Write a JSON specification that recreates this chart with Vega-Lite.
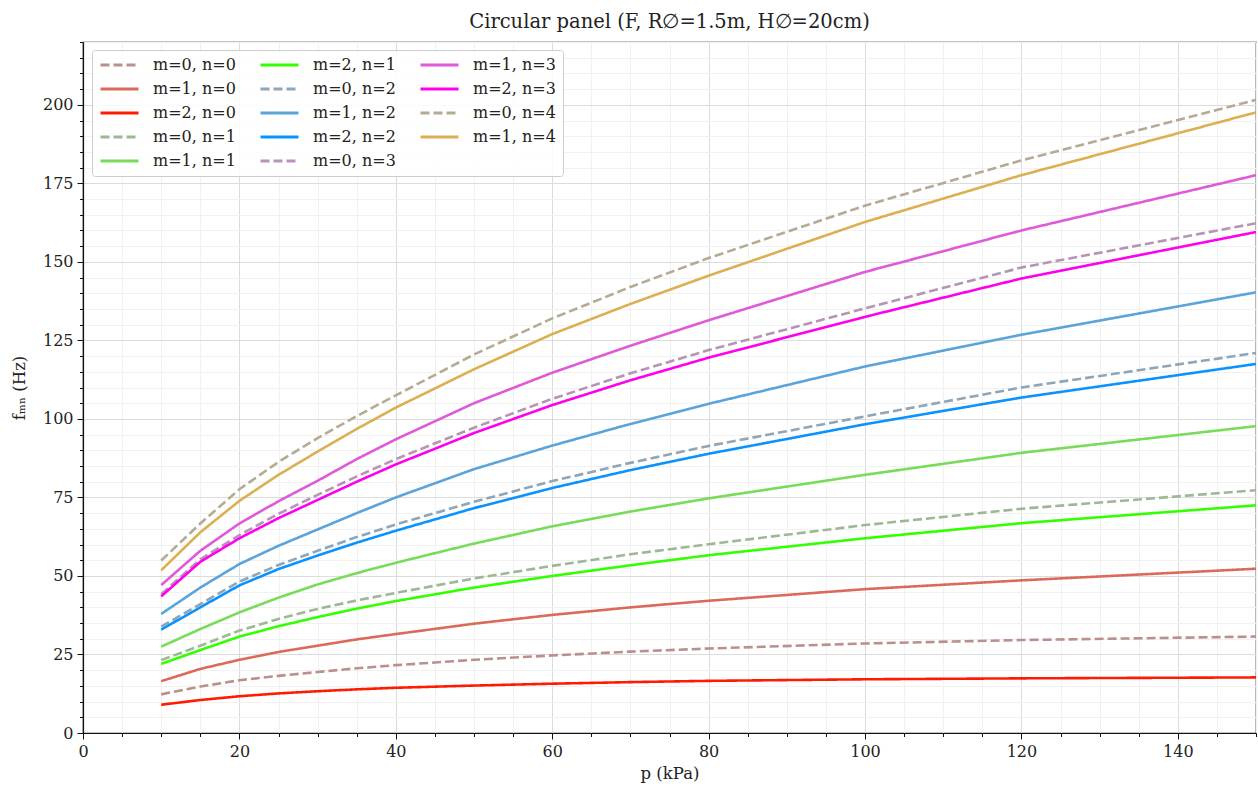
{
  "$schema": "https://vega.github.io/schema/vega-lite/v6.json",
  "autosize": {"type": "none"},
  "padding": {"left": 83, "top": 42, "right": 2, "bottom": 61},
  "width": 1173,
  "height": 691,
  "background": "white",
  "title": {"text": "Circular panel (F, R∅=1.5m, H∅=20cm)", "fontSize": 19.5, "font": "DejaVu Serif", "fontWeight": "normal", "anchor": "middle", "offset": 9, "color": "#222"},
  "data": {"values": [
    {"p":10,"series":"m=0, n=0","f":12.3},{"p":15,"series":"m=0, n=0","f":14.8},{"p":20,"series":"m=0, n=0","f":16.8},{"p":25,"series":"m=0, n=0","f":18.2},{"p":30,"series":"m=0, n=0","f":19.4},{"p":35,"series":"m=0, n=0","f":20.6},{"p":40,"series":"m=0, n=0","f":21.6},{"p":50,"series":"m=0, n=0","f":23.3},{"p":60,"series":"m=0, n=0","f":24.7},{"p":70,"series":"m=0, n=0","f":25.9},{"p":80,"series":"m=0, n=0","f":26.9},{"p":100,"series":"m=0, n=0","f":28.5},{"p":120,"series":"m=0, n=0","f":29.6},{"p":150,"series":"m=0, n=0","f":30.7},
    {"p":10,"series":"m=1, n=0","f":16.5},{"p":15,"series":"m=1, n=0","f":20.4},{"p":20,"series":"m=1, n=0","f":23.3},{"p":25,"series":"m=1, n=0","f":25.8},{"p":30,"series":"m=1, n=0","f":27.8},{"p":35,"series":"m=1, n=0","f":29.8},{"p":40,"series":"m=1, n=0","f":31.5},{"p":50,"series":"m=1, n=0","f":34.8},{"p":60,"series":"m=1, n=0","f":37.6},{"p":70,"series":"m=1, n=0","f":40.0},{"p":80,"series":"m=1, n=0","f":42.1},{"p":100,"series":"m=1, n=0","f":45.8},{"p":120,"series":"m=1, n=0","f":48.6},{"p":150,"series":"m=1, n=0","f":52.3},
    {"p":10,"series":"m=2, n=0","f":9.0},{"p":15,"series":"m=2, n=0","f":10.5},{"p":20,"series":"m=2, n=0","f":11.7},{"p":25,"series":"m=2, n=0","f":12.6},{"p":30,"series":"m=2, n=0","f":13.3},{"p":35,"series":"m=2, n=0","f":13.9},{"p":40,"series":"m=2, n=0","f":14.4},{"p":50,"series":"m=2, n=0","f":15.1},{"p":60,"series":"m=2, n=0","f":15.7},{"p":70,"series":"m=2, n=0","f":16.2},{"p":80,"series":"m=2, n=0","f":16.6},{"p":100,"series":"m=2, n=0","f":17.1},{"p":120,"series":"m=2, n=0","f":17.4},{"p":150,"series":"m=2, n=0","f":17.7},
    {"p":10,"series":"m=0, n=1","f":23.2},{"p":15,"series":"m=0, n=1","f":27.8},{"p":20,"series":"m=0, n=1","f":32.6},{"p":25,"series":"m=0, n=1","f":36.3},{"p":30,"series":"m=0, n=1","f":39.5},{"p":35,"series":"m=0, n=1","f":42.2},{"p":40,"series":"m=0, n=1","f":44.6},{"p":50,"series":"m=0, n=1","f":49.2},{"p":60,"series":"m=0, n=1","f":53.2},{"p":70,"series":"m=0, n=1","f":56.9},{"p":80,"series":"m=0, n=1","f":60.1},{"p":100,"series":"m=0, n=1","f":66.2},{"p":120,"series":"m=0, n=1","f":71.4},{"p":150,"series":"m=0, n=1","f":77.3},
    {"p":10,"series":"m=1, n=1","f":27.5},{"p":15,"series":"m=1, n=1","f":33.1},{"p":20,"series":"m=1, n=1","f":38.4},{"p":25,"series":"m=1, n=1","f":43.1},{"p":30,"series":"m=1, n=1","f":47.3},{"p":35,"series":"m=1, n=1","f":50.9},{"p":40,"series":"m=1, n=1","f":54.2},{"p":50,"series":"m=1, n=1","f":60.3},{"p":60,"series":"m=1, n=1","f":65.8},{"p":70,"series":"m=1, n=1","f":70.5},{"p":80,"series":"m=1, n=1","f":74.7},{"p":100,"series":"m=1, n=1","f":82.2},{"p":120,"series":"m=1, n=1","f":89.2},{"p":150,"series":"m=1, n=1","f":97.7},
    {"p":10,"series":"m=2, n=1","f":22.0},{"p":15,"series":"m=2, n=1","f":26.4},{"p":20,"series":"m=2, n=1","f":30.7},{"p":25,"series":"m=2, n=1","f":34.0},{"p":30,"series":"m=2, n=1","f":36.9},{"p":35,"series":"m=2, n=1","f":39.6},{"p":40,"series":"m=2, n=1","f":42.0},{"p":50,"series":"m=2, n=1","f":46.3},{"p":60,"series":"m=2, n=1","f":50.0},{"p":70,"series":"m=2, n=1","f":53.4},{"p":80,"series":"m=2, n=1","f":56.6},{"p":100,"series":"m=2, n=1","f":62.0},{"p":120,"series":"m=2, n=1","f":66.8},{"p":150,"series":"m=2, n=1","f":72.5},
    {"p":10,"series":"m=0, n=2","f":33.9},{"p":15,"series":"m=0, n=2","f":41.0},{"p":20,"series":"m=0, n=2","f":48.2},{"p":25,"series":"m=0, n=2","f":53.5},{"p":30,"series":"m=0, n=2","f":58.0},{"p":35,"series":"m=0, n=2","f":62.4},{"p":40,"series":"m=0, n=2","f":66.4},{"p":50,"series":"m=0, n=2","f":73.6},{"p":60,"series":"m=0, n=2","f":80.2},{"p":70,"series":"m=0, n=2","f":86.0},{"p":80,"series":"m=0, n=2","f":91.4},{"p":100,"series":"m=0, n=2","f":100.8},{"p":120,"series":"m=0, n=2","f":110.0},{"p":150,"series":"m=0, n=2","f":121.0},
    {"p":10,"series":"m=1, n=2","f":37.9},{"p":15,"series":"m=1, n=2","f":46.3},{"p":20,"series":"m=1, n=2","f":53.8},{"p":25,"series":"m=1, n=2","f":59.6},{"p":30,"series":"m=1, n=2","f":64.8},{"p":35,"series":"m=1, n=2","f":70.0},{"p":40,"series":"m=1, n=2","f":75.0},{"p":50,"series":"m=1, n=2","f":84.0},{"p":60,"series":"m=1, n=2","f":91.5},{"p":70,"series":"m=1, n=2","f":98.4},{"p":80,"series":"m=1, n=2","f":104.8},{"p":100,"series":"m=1, n=2","f":116.7},{"p":120,"series":"m=1, n=2","f":126.8},{"p":150,"series":"m=1, n=2","f":140.3},
    {"p":10,"series":"m=2, n=2","f":32.9},{"p":15,"series":"m=2, n=2","f":40.0},{"p":20,"series":"m=2, n=2","f":47.0},{"p":25,"series":"m=2, n=2","f":52.2},{"p":30,"series":"m=2, n=2","f":56.5},{"p":35,"series":"m=2, n=2","f":60.6},{"p":40,"series":"m=2, n=2","f":64.4},{"p":50,"series":"m=2, n=2","f":71.6},{"p":60,"series":"m=2, n=2","f":78.0},{"p":70,"series":"m=2, n=2","f":83.7},{"p":80,"series":"m=2, n=2","f":88.9},{"p":100,"series":"m=2, n=2","f":98.3},{"p":120,"series":"m=2, n=2","f":106.8},{"p":150,"series":"m=2, n=2","f":117.5},
    {"p":10,"series":"m=0, n=3","f":44.2},{"p":15,"series":"m=0, n=3","f":55.3},{"p":20,"series":"m=0, n=3","f":63.0},{"p":25,"series":"m=0, n=3","f":69.8},{"p":30,"series":"m=0, n=3","f":75.8},{"p":35,"series":"m=0, n=3","f":81.7},{"p":40,"series":"m=0, n=3","f":87.2},{"p":50,"series":"m=0, n=3","f":97.2},{"p":60,"series":"m=0, n=3","f":106.4},{"p":70,"series":"m=0, n=3","f":114.5},{"p":80,"series":"m=0, n=3","f":121.9},{"p":100,"series":"m=0, n=3","f":135.2},{"p":120,"series":"m=0, n=3","f":148.2},{"p":150,"series":"m=0, n=3","f":162.3},
    {"p":10,"series":"m=1, n=3","f":47.1},{"p":15,"series":"m=1, n=3","f":58.0},{"p":20,"series":"m=1, n=3","f":66.7},{"p":25,"series":"m=1, n=3","f":73.8},{"p":30,"series":"m=1, n=3","f":80.3},{"p":35,"series":"m=1, n=3","f":87.2},{"p":40,"series":"m=1, n=3","f":93.5},{"p":50,"series":"m=1, n=3","f":105.0},{"p":60,"series":"m=1, n=3","f":114.7},{"p":70,"series":"m=1, n=3","f":123.3},{"p":80,"series":"m=1, n=3","f":131.4},{"p":100,"series":"m=1, n=3","f":146.8},{"p":120,"series":"m=1, n=3","f":160.0},{"p":150,"series":"m=1, n=3","f":177.6},
    {"p":10,"series":"m=2, n=3","f":43.5},{"p":15,"series":"m=2, n=3","f":54.5},{"p":20,"series":"m=2, n=3","f":62.0},{"p":25,"series":"m=2, n=3","f":68.4},{"p":30,"series":"m=2, n=3","f":74.2},{"p":35,"series":"m=2, n=3","f":80.0},{"p":40,"series":"m=2, n=3","f":85.5},{"p":50,"series":"m=2, n=3","f":95.5},{"p":60,"series":"m=2, n=3","f":104.4},{"p":70,"series":"m=2, n=3","f":112.3},{"p":80,"series":"m=2, n=3","f":119.5},{"p":100,"series":"m=2, n=3","f":132.5},{"p":120,"series":"m=2, n=3","f":144.7},{"p":150,"series":"m=2, n=3","f":159.5},
    {"p":10,"series":"m=0, n=4","f":54.9},{"p":15,"series":"m=0, n=4","f":66.7},{"p":20,"series":"m=0, n=4","f":77.6},{"p":25,"series":"m=0, n=4","f":86.3},{"p":30,"series":"m=0, n=4","f":93.9},{"p":35,"series":"m=0, n=4","f":100.9},{"p":40,"series":"m=0, n=4","f":107.5},{"p":50,"series":"m=0, n=4","f":120.5},{"p":60,"series":"m=0, n=4","f":132.0},{"p":70,"series":"m=0, n=4","f":142.0},{"p":80,"series":"m=0, n=4","f":151.2},{"p":100,"series":"m=0, n=4","f":167.9},{"p":120,"series":"m=0, n=4","f":182.3},{"p":150,"series":"m=0, n=4","f":201.6},
    {"p":10,"series":"m=1, n=4","f":51.8},{"p":15,"series":"m=1, n=4","f":63.9},{"p":20,"series":"m=1, n=4","f":73.9},{"p":25,"series":"m=1, n=4","f":82.2},{"p":30,"series":"m=1, n=4","f":89.6},{"p":35,"series":"m=1, n=4","f":96.8},{"p":40,"series":"m=1, n=4","f":103.6},{"p":50,"series":"m=1, n=4","f":115.8},{"p":60,"series":"m=1, n=4","f":127.0},{"p":70,"series":"m=1, n=4","f":136.6},{"p":80,"series":"m=1, n=4","f":145.6},{"p":100,"series":"m=1, n=4","f":162.7},{"p":120,"series":"m=1, n=4","f":177.6},{"p":150,"series":"m=1, n=4","f":197.6}
  ]},
  "mark": {"type": "line", "strokeWidth": 2.6, "clip": true},
  "encoding": {
    "x": {"field": "p", "type": "quantitative", "scale": {"domain": [0, 150], "nice": false},
      "axis": {"title": "p (kPa)", "values": [0,5,10,15,20,25,30,35,40,45,50,55,60,65,70,75,80,85,90,95,100,105,110,115,120,125,130,135,140,145,150],
        "labelExpr": "datum.value % 20 === 0 ? datum.label : ''", "labelFlush": false,
        "tickSize": {"condition": {"test": "datum.value % 20 === 0", "value": 6}, "value": 3.5},
        "gridColor": {"condition": {"test": "datum.value % 20 === 0", "value": "#dcdcdc"}, "value": "#f1f1f1"},
        "labelPadding": 4, "titlePadding": 6}},
    "y": {"field": "f", "type": "quantitative", "scale": {"domain": [0, 220], "nice": false},
      "axis": {"title": "fₘₙ (Hz)", "values": [0,5,10,15,20,25,30,35,40,45,50,55,60,65,70,75,80,85,90,95,100,105,110,115,120,125,130,135,140,145,150,155,160,165,170,175,180,185,190,195,200,205,210,215,220],
        "labelExpr": "datum.value % 25 === 0 ? datum.label : ''", "labelFlush": false,
        "tickSize": {"condition": {"test": "datum.value % 25 === 0", "value": 6}, "value": 3.5},
        "gridColor": {"condition": {"test": "datum.value % 25 === 0", "value": "#dcdcdc"}, "value": "#f1f1f1"},
        "labelPadding": 4, "titlePadding": 15}},
    "color": {"field": "series", "type": "nominal",
      "scale": {"domain": ["m=0, n=0","m=1, n=0","m=2, n=0","m=0, n=1","m=1, n=1","m=2, n=1","m=0, n=2","m=1, n=2","m=2, n=2","m=0, n=3","m=1, n=3","m=2, n=3","m=0, n=4","m=1, n=4"],
        "range": ["#bc8f8f","#dc6a5a","#ff1a00","#9db893","#78dc5a","#33ff00","#8fa5b8","#5aa4d9","#0a93ff","#b794b6","#de5ad9","#ff00ee","#b5aa92","#dcb052"]},
      "legend": {"title": null}},
    "strokeDash": {"field": "series", "type": "nominal",
      "scale": {"domain": ["m=0, n=0","m=1, n=0","m=2, n=0","m=0, n=1","m=1, n=1","m=2, n=1","m=0, n=2","m=1, n=2","m=2, n=2","m=0, n=3","m=1, n=3","m=2, n=3","m=0, n=4","m=1, n=4"],
        "range": [[9,4],[1,0],[1,0],[9,4],[1,0],[1,0],[9,4],[1,0],[1,0],[9,4],[1,0],[1,0],[9,4],[1,0]]},
      "legend": {"title": null}}
  },
  "config": {
    "font": "DejaVu Serif",
    "view": {"stroke": "#111", "strokeWidth": 1.2},
    "axis": {"labelFont": "DejaVu Serif", "labelFontSize": 16, "labelColor": "#222", "titleFont": "DejaVu Serif", "titleFontSize": 16.5, "titleFontWeight": "normal", "titleColor": "#222", "domainColor": "#111", "domainWidth": 1.2, "tickColor": "#111", "tickWidth": 1, "gridWidth": 1},
    "legend": {"orient": "none", "legendX": 9, "legendY": 8, "columns": 3, "gridAlign": "all",
      "symbolType": "stroke", "symbolSize": 1444, "symbolStrokeWidth": 3, "clipHeight": 16,
      "rowPadding": 8, "columnPadding": 23, "labelOffset": 13,
      "labelFont": "DejaVu Serif", "labelFontSize": 16, "labelColor": "#222",
      "fillColor": "rgba(255,255,255,0.85)", "strokeColor": "#cccccc", "padding": 7, "cornerRadius": 3}
  }
}
